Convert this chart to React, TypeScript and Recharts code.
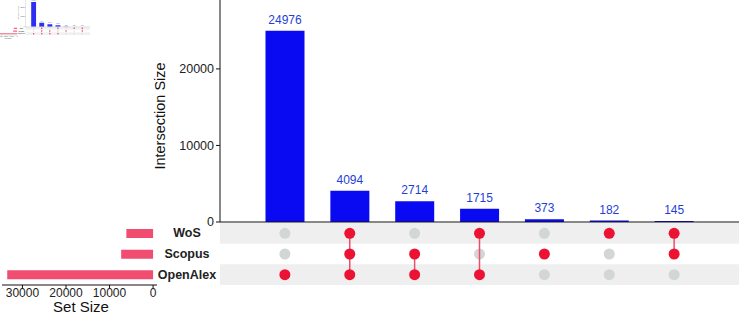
import { BarChart, Bar, XAxis, YAxis, LabelList, ScatterChart, Scatter, ReferenceArea } from 'recharts';

const sets = ['WoS', 'Scopus', 'OpenAlex'];
const setSizes = [6136, 7326, 33499];
const intersectionSizes = [24976, 4094, 2714, 1715, 373, 182, 145];
const memberships = [
    ['OpenAlex'],
    ['WoS', 'Scopus', 'OpenAlex'],
    ['Scopus', 'OpenAlex'],
    ['WoS', 'OpenAlex'],
    ['Scopus'],
    ['WoS'],
    ['WoS', 'Scopus'],
];
const intersectionTicks = [0, 10000, 20000];
const setSizeTicks = [0, 10000, 20000, 30000];

const FONT = '"Liberation Sans", Arial, sans-serif';
const BLUE = '#0a0af2';
const RED = '#ec1234';
const GREY_DOT = '#d2d6d6';
const PINK = '#f04d70';

const barData = intersectionSizes.map((size, i) => ({ id: `i${i}`, size }));
const setData = sets.map((set, i) => ({ set, size: setSizes[i] }));
const offPoints = memberships.flatMap((m, i) =>
    sets.map((s, j) => ({ x: i, y: j, on: m.includes(s) })).filter((p) => !p.on)
);
const onColumns = memberships.map((m, i) =>
    sets.map((s, j) => ({ x: i, y: j, on: m.includes(s) })).filter((p) => p.on)
);

function Upset() {
    return (
        <div style={{ position: 'relative', width: 739, height: 316, fontFamily: FONT }}>
            {/* matrix */}
            <div style={{ position: 'absolute', left: 0, top: 223 }}>
                <ScatterChart width={739} height={62} margin={{ top: 0, right: 0, left: 160, bottom: 0 }}>
                    <XAxis type="number" dataKey="x" domain={[-1, 7]} hide allowDataOverflow />
                    <YAxis
                        type="number"
                        dataKey="y"
                        width={60}
                        domain={[-0.5, 2.5]}
                        reversed
                        ticks={[0, 1, 2]}
                        interval={0}
                        axisLine={false}
                        tickLine={false}
                        tick={(p: any) => (
                            <text
                                x={187}
                                y={p.y}
                                textAnchor="middle"
                                dominantBaseline="central"
                                fontSize={12.5}
                                fontWeight="bold"
                                fill="#222"
                                fontFamily={FONT}
                            >
                                {sets[p.payload.value]}
                            </text>
                        )}
                    />
                    <ReferenceArea x1={-1} x2={7} y1={-0.5} y2={0.5} fill="#efefef" fillOpacity={1} stroke="none" />
                    <ReferenceArea x1={-1} x2={7} y1={1.5} y2={2.5} fill="#efefef" fillOpacity={1} stroke="none" />
                    <Scatter
                        data={offPoints}
                        isAnimationActive={false}
                        shape={(p: any) => <circle cx={p.cx} cy={p.cy} r={5.5} fill={GREY_DOT} />}
                    />
                    {onColumns.map((col, i) => (
                        <Scatter
                            key={i}
                            data={col}
                            isAnimationActive={false}
                            line={{ stroke: '#e8506a', strokeWidth: 1.5 }}
                            shape={(p: any) => <circle cx={p.cx} cy={p.cy} r={5.5} fill={RED} />}
                        />
                    ))}
                </ScatterChart>
            </div>

            {/* intersection size bars */}
            <div style={{ position: 'absolute', left: 0, top: 0 }}>
                <BarChart width={739} height={232} data={barData} margin={{ top: 0, right: 0, left: 160, bottom: 0 }}>
                    <XAxis
                        dataKey="id"
                        height={10}
                        tick={false}
                        tickLine={false}
                        axisLine={{ stroke: '#111' }}
                        padding={{ left: 32.5, right: 32.5 }}
                    />
                    <YAxis
                        width={60}
                        domain={[0, 29000]}
                        allowDataOverflow
                        ticks={intersectionTicks}
                        interval={0}
                        tickSize={4}
                        tickMargin={2}
                        axisLine={{ stroke: '#111' }}
                        tickLine={{ stroke: '#111' }}
                        tick={{ fill: '#222', fontSize: 12.5, fontFamily: FONT }}
                        label={{
                            content: () => (
                                <text
                                    x={160}
                                    y={116}
                                    transform="rotate(-90 160 116)"
                                    textAnchor="middle"
                                    dominantBaseline="central"
                                    fontSize={14.5}
                                    fill="#111"
                                    fontFamily={FONT}
                                >
                                    Intersection Size
                                </text>
                            ),
                        }}
                    />
                    <Bar dataKey="size" fill={BLUE} barSize={39} isAnimationActive={false}>
                        <LabelList dataKey="size" position="top" offset={7} fill="#1f3fd6" fontSize={12} fontFamily={FONT} />
                    </Bar>
                </BarChart>
            </div>

            {/* set size bars */}
            <div style={{ position: 'absolute', left: 0, top: 223 }}>
                <BarChart
                    layout="vertical"
                    width={160}
                    height={93}
                    data={setData}
                    margin={{ top: 0, right: 3, left: 2, bottom: 0 }}
                >
                    <XAxis
                        type="number"
                        reversed
                        domain={[-900, 34700]}
                        allowDataOverflow
                        ticks={setSizeTicks}
                        interval={0}
                        height={31}
                        tickSize={3}
                        tickMargin={0}
                        axisLine={{ stroke: '#111' }}
                        tickLine={{ stroke: '#111' }}
                        tick={{ fill: '#222', fontSize: 12, fontFamily: FONT }}
                        label={{
                            content: () => (
                                <text x={81} y={89} textAnchor="middle" fontSize={15} fill="#111" fontFamily={FONT}>
                                    Set Size
                                </text>
                            ),
                        }}
                    />
                    <YAxis type="category" dataKey="set" hide />
                    <Bar dataKey="size" fill={PINK} barSize={9} isAnimationActive={false} />
                </BarChart>
            </div>
        </div>
    );
}

export default function App() {
    return (
        <div style={{ position: 'absolute', left: 0, top: 0, width: 739, height: 316, overflow: 'hidden', background: '#fff' }}>
            <Upset />
            {/* tiny preview copy in the corner */}
            <div
                style={{
                    position: 'absolute',
                    left: -2,
                    top: -2,
                    transform: 'scale(0.125, 0.13)',
                    transformOrigin: '0 0',
                    opacity: 0.85,
                }}
            >
                <Upset />
            </div>
        </div>
    );
}
